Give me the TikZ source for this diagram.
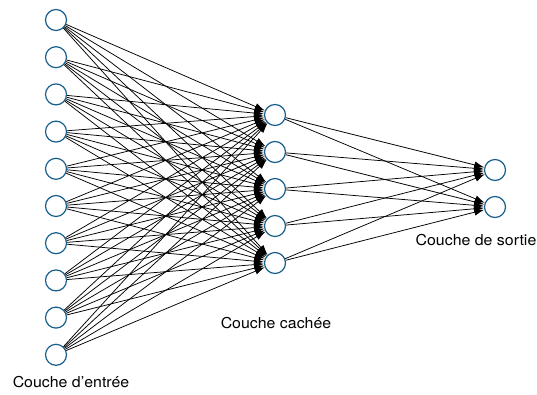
\documentclass[tikz,border=0pt]{standalone}
\usepackage{fontspec}
\setmainfont{TeX Gyre Heros}[FakeStretch=1.06]
\usetikzlibrary{arrows.meta}
\definecolor{neuronblue}{RGB}{25,95,140}
\begin{document}
\begin{tikzpicture}[x=1pt,y=-1pt,
  neuron/.style={circle,draw=neuronblue,line width=1.2pt,minimum size=21pt,inner sep=0pt},
  link/.style={-{Latex[length=10pt,width=7pt]},line width=0.75pt},
  layername/.style={font=\fontsize{15}{17}\selectfont}]
\useasboundingbox (0,0) rectangle (537,394);
% couches
\foreach \i in {1,...,10}
  \node[neuron] (in\i) at (56,{20+(\i-1)*37.2}) {};
\foreach \j in {1,...,5}
  \node[neuron] (hid\j) at (275,{115+(\j-1)*37}) {};
\foreach \k in {1,2}
  \node[neuron] (out\k) at (495,{170+(\k-1)*37}) {};
% connexions
\foreach \i in {1,...,10}
  \foreach \j in {1,...,5}
    \draw[link] (in\i) -- (hid\j);
\foreach \j in {1,...,5}
  \foreach \k in {1,2}
    \draw[link] (hid\j) -- (out\k);
% noms des couches
\node[layername] (inname) at (71,382) {Couche d\char"0027entrée};
\node[layername] (hidname) at (276,323) {Couche cachée};
\node[layername] (outname) at (476,240) {Couche de sortie};
\end{tikzpicture}
\end{document}
